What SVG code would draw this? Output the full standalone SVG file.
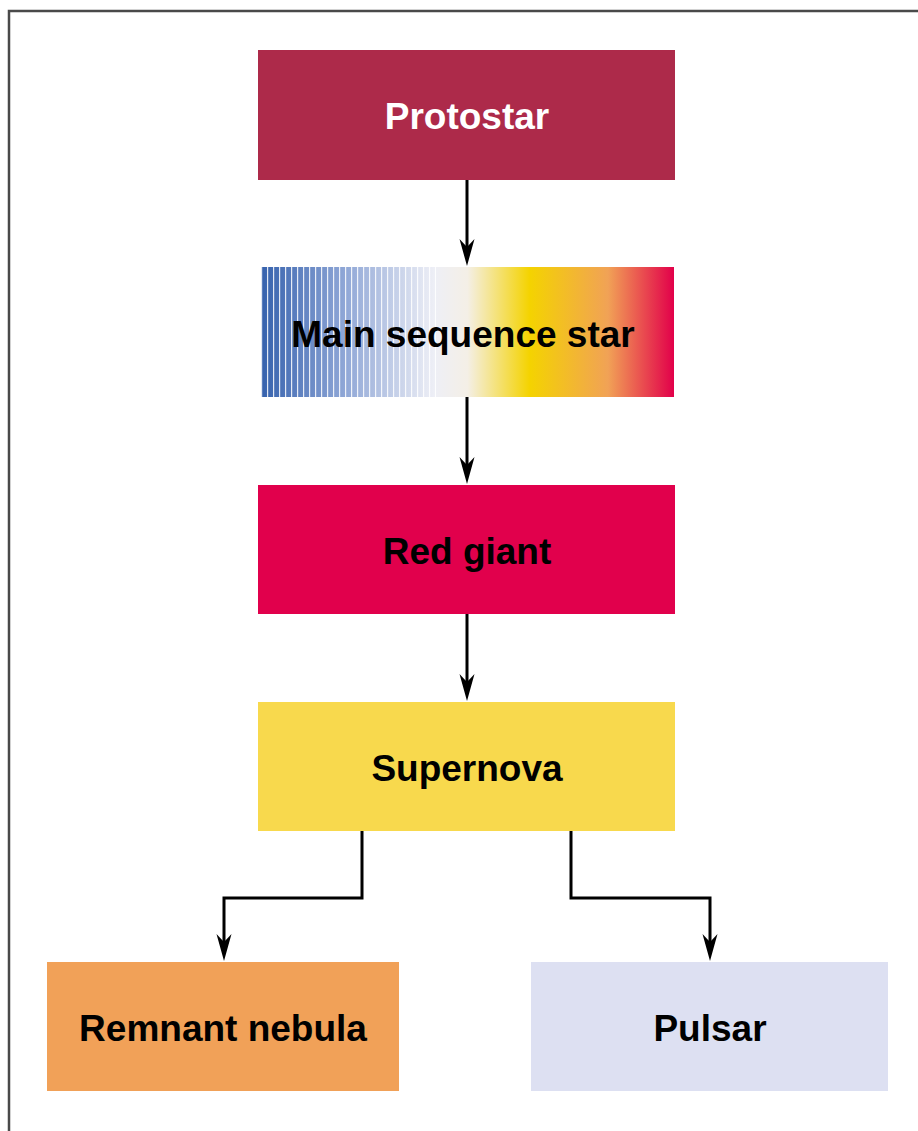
<svg xmlns="http://www.w3.org/2000/svg" width="918" height="1131" viewBox="0 0 918 1131">
  <style>
    .lbl { font-family: "Liberation Sans", Arial, sans-serif; font-weight: bold; font-size: 37px; text-anchor: middle; }
    .conn { fill: none; stroke: #000; stroke-width: 3; }
  </style>
  <defs>
    <linearGradient id="mainSeq" x1="0" y1="0" x2="1" y2="0">
      <stop offset="0" stop-color="#3561ad"/>
      <stop offset="0.2" stop-color="#8ea6d6"/>
      <stop offset="0.42" stop-color="#eeeff6"/>
      <stop offset="0.5" stop-color="#f4efe6"/>
      <stop offset="0.65" stop-color="#f4d300"/>
      <stop offset="0.84" stop-color="#f1a256"/>
      <stop offset="1" stop-color="#e2004a"/>
    </linearGradient>
    <pattern id="stripes" x="261" y="0" width="6" height="10" patternUnits="userSpaceOnUse">
      <rect x="0" y="0" width="1.2" height="10" fill="#ffffff" opacity="0.85"/>
    </pattern>
    <path id="head" d="M-7.5,-27 L0,-19 L7.5,-27 L0,0 Z" fill="#000"/>
  </defs>

  <rect x="0" y="0" width="918" height="1131" fill="#ffffff"/>
  <!-- frame -->
  <path d="M9,1131 V11 H918" fill="none" stroke="#4a4a4a" stroke-width="2.5"/>

  <g id="connectors">
    <path class="conn" d="M467,180 V250"/>
    <path class="conn" d="M467,397 V468"/>
    <path class="conn" d="M467,614 V685"/>
    <path class="conn" d="M362,831 V898 H224 V945"/>
    <path class="conn" d="M571,831 V898 H710 V945"/>
    <use href="#head" x="467" y="266"/>
    <use href="#head" x="467" y="484"/>
    <use href="#head" x="467" y="701"/>
    <use href="#head" x="224" y="961"/>
    <use href="#head" x="710" y="961"/>
  </g>

  <g id="protostar">
    <rect x="258" y="50" width="417" height="130" fill="#ad2a4a"/>
    <text class="lbl" x="467" y="129" fill="#ffffff">Protostar</text>
  </g>

  <g id="main-sequence-star">
    <rect x="261" y="267" width="413" height="130" fill="url(#mainSeq)"/>
    <rect x="261" y="267" width="175" height="130" fill="url(#stripes)"/>
    <text class="lbl" x="463" y="347" fill="#000000">Main sequence star</text>
  </g>

  <g id="red-giant">
    <rect x="258" y="485" width="417" height="129" fill="#e1004c"/>
    <text class="lbl" x="467" y="564" fill="#000000">Red giant</text>
  </g>

  <g id="supernova">
    <rect x="258" y="702" width="417" height="129" fill="#f8d94d"/>
    <text class="lbl" x="467" y="781" fill="#000000">Supernova</text>
  </g>

  <g id="remnant-nebula">
    <rect x="47" y="962" width="352" height="129" fill="#f1a158"/>
    <text class="lbl" x="223" y="1041" fill="#000000">Remnant nebula</text>
  </g>

  <g id="pulsar">
    <rect x="531" y="962" width="357" height="129" fill="#dde0f2"/>
    <text class="lbl" x="710" y="1041" fill="#000000">Pulsar</text>
  </g>
</svg>
